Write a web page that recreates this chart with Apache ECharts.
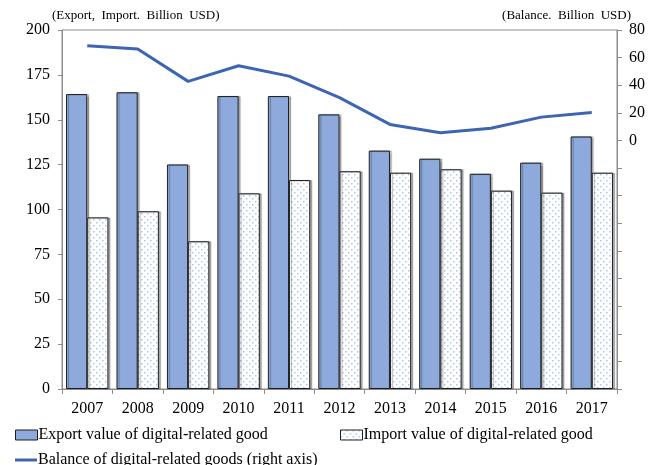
<!DOCTYPE html>
<html>
<head>
<meta charset="utf-8">
<script src="https://cdn.jsdelivr.net/npm/echarts@6/dist/echarts.min.js"></script>
<style>html,body{margin:0;padding:0;background:#fff;}#c{width:648px;height:465px;}</style>
</head>
<body>
<div id="c"></div>
<script>
const years = ['2007','2008','2009','2010','2011','2012','2013','2014','2015','2016','2017'];
const exportValues = [164.3, 165.3, 125.1, 163.2, 163.2, 153.0, 132.8, 128.3, 119.9, 126.1, 140.7];
const importValues = [95.6, 99.0, 82.3, 109.0, 116.4, 121.3, 120.5, 122.4, 110.5, 109.4, 120.5];
const balanceValues = [68.6, 66.2, 42.8, 54.1, 46.6, 31.0, 11.6, 5.6, 8.9, 16.9, 20.3];
const leftTicks = {min: 0, max: 200, interval: 25};
const rightTicks = {min: -180, max: 80, interval: 20};

const FONT = '"Liberation Serif", "Times New Roman", serif';

// dotted pattern for import bars
const pat = document.createElement('canvas');
pat.width = 6; pat.height = 6;
const pc = pat.getContext('2d');
pc.fillStyle = '#ffffff'; pc.fillRect(0,0,6,6);
pc.fillStyle = '#a9c8ea';
pc.fillRect(0,0,1.5,1.5);
pc.fillRect(3,3,1.5,1.5);

const chart = echarts.init(document.getElementById('c'));
const axisColor = '#8c8c8c';
chart.setOption({
  animation: false,
  textStyle: {fontFamily: FONT},
  grid: {left: 62, right: 31, top: 30, bottom: 76, show: true, borderColor: axisColor, borderWidth: 1},
  xAxis: {
    type: 'category', data: years,
    axisLine: {lineStyle: {color: axisColor, width: 1}},
    axisTick: {show: true, length: 5, lineStyle: {color: axisColor}},
    axisLabel: {color: '#000', fontSize: 16, fontFamily: FONT, margin: 12}
  },
  yAxis: [{
    type: 'value', min: leftTicks.min, max: leftTicks.max, interval: leftTicks.interval,
    splitLine: {show: false},
    axisLine: {show: true, lineStyle: {color: axisColor}},
    axisTick: {show: true, length: 4, lineStyle: {color: axisColor}},
    axisLabel: {color: '#000', fontSize: 16, fontFamily: FONT, margin: 12}
  }, {
    type: 'value', position: 'right', min: rightTicks.min, max: rightTicks.max, interval: rightTicks.interval,
    splitLine: {show: false},
    axisLine: {show: true, lineStyle: {color: axisColor}},
    axisTick: {show: true, length: 5, lineStyle: {color: axisColor}},
    axisLabel: {color: '#000', fontSize: 16, fontFamily: FONT, margin: 12,
      formatter: v => v >= 0 ? String(v) : ''}
  }],
  legend: [{
    left: 10, top: 422, itemWidth: 22, itemHeight: 10, itemGap: 10,
    itemStyle: {borderWidth: 1, borderColor: '#1f1f1f'},
    textStyle: {fontSize: 16, fontFamily: FONT, color: '#000', padding: [0,0,0,-4]},
    data: [{name: 'Export value of digital-related good', icon: 'rect'}]
  }, {
    left: 335, top: 422, itemWidth: 22, itemHeight: 10,
    itemStyle: {borderWidth: 1, borderColor: '#1f1f1f'},
    textStyle: {fontSize: 16, fontFamily: FONT, color: '#000', padding: [0,0,0,-4]},
    data: [{name: 'Import value of digital-related good', icon: 'rect'}]
  }, {
    left: 10, top: 447, itemWidth: 22, itemHeight: 3,
    itemStyle: {borderWidth: 0},
    textStyle: {fontSize: 16, fontFamily: FONT, color: '#000', padding: [0,0,0,-4]},
    data: [{name: 'Balance of digital-related goods (right axis)', icon: 'rect'}]
  }],
  graphic: [{
    type: 'text', left: 52, top: 9,
    style: {text: '(Export,  Import.  Billion  USD)', font: '13px ' + FONT, fill: '#000'}
  }, {
    type: 'text', right: 17, top: 9,
    style: {text: '(Balance.  Billion  USD)', font: '13px ' + FONT, fill: '#000'}
  }],
  series: [{
    name: 'Export value of digital-related good', type: 'bar', yAxisIndex: 0,
    data: exportValues, barGap: '0%', barCategoryGap: '16%',
    itemStyle: {color: '#8eaadc', borderColor: '#1f1f1f', borderWidth: 1,
      shadowColor: 'rgba(0,0,0,0.3)', shadowOffsetX: 2, shadowOffsetY: 0, shadowBlur: 1}
  }, {
    name: 'Import value of digital-related good', type: 'bar', yAxisIndex: 0,
    data: importValues,
    itemStyle: {color: {image: pat, repeat: 'repeat'}, borderColor: '#1f1f1f', borderWidth: 1,
      shadowColor: 'rgba(0,0,0,0.3)', shadowOffsetX: 2, shadowOffsetY: 0, shadowBlur: 1}
  }, {
    name: 'Balance of digital-related goods (right axis)', type: 'line', yAxisIndex: 1,
    data: balanceValues, showSymbol: false, symbol: 'none',
    lineStyle: {color: '#3e65b1', width: 3},
    itemStyle: {color: '#3e65b1'}
  }]
});
</script>
</body>
</html>
